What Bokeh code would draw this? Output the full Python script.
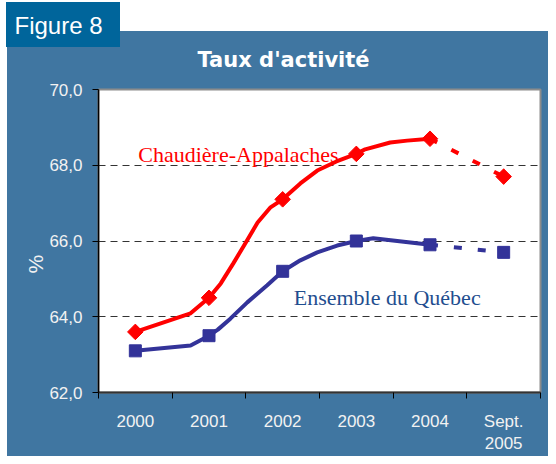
import numpy as np
from bokeh.plotting import figure
from bokeh.models import FixedTicker, Range1d, Label, Title
from bokeh.embed import file_html
from bokeh.resources import INLINE

# ---- data ----
categories = ["2000", "2001", "2002", "2003", "2004", "Sept.\n2005"]
chaudiere = [63.6, 64.5, 67.1, 68.3, 68.7, 67.7]
quebec = [63.1, 63.5, 65.2, 66.0, 65.9, 65.7]

# traced trend lines (position in years after the 2000 point, value)
chaud_line_pos = [0, 0.75, 1.0, 1.16, 1.33, 1.5, 1.66, 1.83, 2.0, 2.24, 2.47, 2.73, 3.0, 3.12, 3.46, 3.69, 4.0]
chaud_line_val = [63.6, 64.09, 64.5, 64.88, 65.41, 65.96, 66.49, 66.88, 67.1, 67.52, 67.86, 68.10, 68.3, 68.42, 68.60, 68.65, 68.7]
queb_line_pos = [0, 0.75, 1.0, 1.12, 1.29, 1.52, 1.79, 2.0, 2.24, 2.47, 2.74, 3.0, 3.23, 4.0]
queb_line_val = [63.1, 63.24, 63.5, 63.66, 63.95, 64.38, 64.83, 65.2, 65.49, 65.70, 65.88, 66.0, 66.07, 65.9]

y_ticks = [62, 64, 66, 68, 70]
y_tick_labels = ["62,0", "64,0", "66,0", "68,0", "70,0"]

PANEL = "#4076A1"
FIGBOX = "#00659B"
RED = "#FF0000"
BLUE = "#333399"

W, H = 548, 456
p = figure(width=W, height=H, output_backend="svg", toolbar_location=None,
           title_location=None,
           x_range=Range1d(0, len(categories)), y_range=Range1d(62, 70))
p.min_border_left = 98
p.min_border_right = 8
p.min_border_top = 89
p.min_border_bottom = 64
p.border_fill_alpha = 0
p.background_fill_color = "white"
p.outline_line_color = "#8C8C8C"
p.outline_line_width = 2
p.styles = {
    "background": (f"linear-gradient({FIGBOX},{FIGBOX}) 6px 2px / 114px 45px no-repeat, "
                   f"linear-gradient({PANEL},{PANEL}) 7px 31px / 600px 500px no-repeat, "
                   "#ffffff")
}

centers = [i + 0.5 for i in range(len(categories))]

# axes
xa = p.xaxis[0]
xa.ticker = FixedTicker(ticks=centers, minor_ticks=list(range(len(categories) + 1)))
xa.major_label_overrides = {c: lab for c, lab in zip(centers, categories)}
xa.major_tick_out = 0
xa.major_tick_in = 0
xa.minor_tick_out = 6
xa.minor_tick_in = 0
xa.minor_tick_line_color = "black"
xa.axis_line_color = "#333333"
xa.axis_line_width = 2
xa.major_label_text_color = "#F2F2F2"
xa.major_label_text_font = "Liberation Sans"
xa.major_label_text_font_size = "17px"
xa.major_label_standoff = 13

ya = p.yaxis[0]
ya.ticker = FixedTicker(ticks=y_ticks)
ya.major_label_overrides = {t: l for t, l in zip(y_ticks, y_tick_labels)}
ya.minor_tick_line_color = None
ya.major_tick_out = 6
ya.major_tick_in = 0
ya.major_tick_line_color = "black"
ya.axis_line_color = "black"
ya.axis_line_width = 1.5
ya.major_label_text_color = "#F2F2F2"
ya.major_label_text_font = "Liberation Sans"
ya.major_label_text_font_size = "17px"
ya.major_label_standoff = 10

p.xgrid.grid_line_color = None
p.ygrid.ticker = FixedTicker(ticks=y_ticks[1:-1])
p.ygrid.grid_line_color = "#333333"
p.ygrid.grid_line_dash = "7 5"
p.ygrid.grid_line_width = 1

# lines
p.line([c + 0.5 for c in chaud_line_pos], chaud_line_val, line_color=RED, line_width=4)
p.line([c + 0.5 for c in queb_line_pos], queb_line_val, line_color=BLUE, line_width=4)
p.line(centers[4:6], chaudiere[4:6], line_color=RED, line_width=4, line_dash="8 16")
p.line(centers[4:6], quebec[4:6], line_color=BLUE, line_width=4, line_dash="8 16")

p.scatter(centers, chaudiere, marker="square", angle=np.pi / 4, size=11,
          fill_color=RED, line_color=RED)
p.scatter(centers, quebec, marker="square", size=12, fill_color=BLUE, line_color=BLUE)

# series labels
p.add_layout(Label(x=0.54, y=68.28, text="Chaudière-Appalaches", text_color=RED,
                   text_font="Liberation Serif", text_font_size="22px",
                   text_baseline="alphabetic"))
p.add_layout(Label(x=2.65, y=64.51, text="Ensemble du Québec", text_color="#1F4E8F",
                   text_font="Liberation Serif", text_font_size="22px",
                   text_baseline="alphabetic"))

# titles (stacked from the frame outward)
p.add_layout(Title(text="Taux d'activité", align="left", offset=99,
                   vertical_align="middle", standoff=33,
                   text_color="white", text_font="DejaVu Sans",
                   text_font_style="bold", text_font_size="21px"), "above")
p.add_layout(Title(text="Figure 8", align="left", offset=-84,
                   vertical_align="middle", standoff=-18,
                   text_color="white", text_font="Liberation Sans",
                   text_font_style="normal", text_font_size="24px"), "above")

# y axis title
p.add_layout(Title(text="%", align="left", offset=119, vertical_align="middle",
                   standoff=-2, text_color="#F2F2F2", text_font="Liberation Sans",
                   text_font_style="normal", text_font_size="21px"), "left")

open("out.html", "w").write(file_html(p, INLINE))
